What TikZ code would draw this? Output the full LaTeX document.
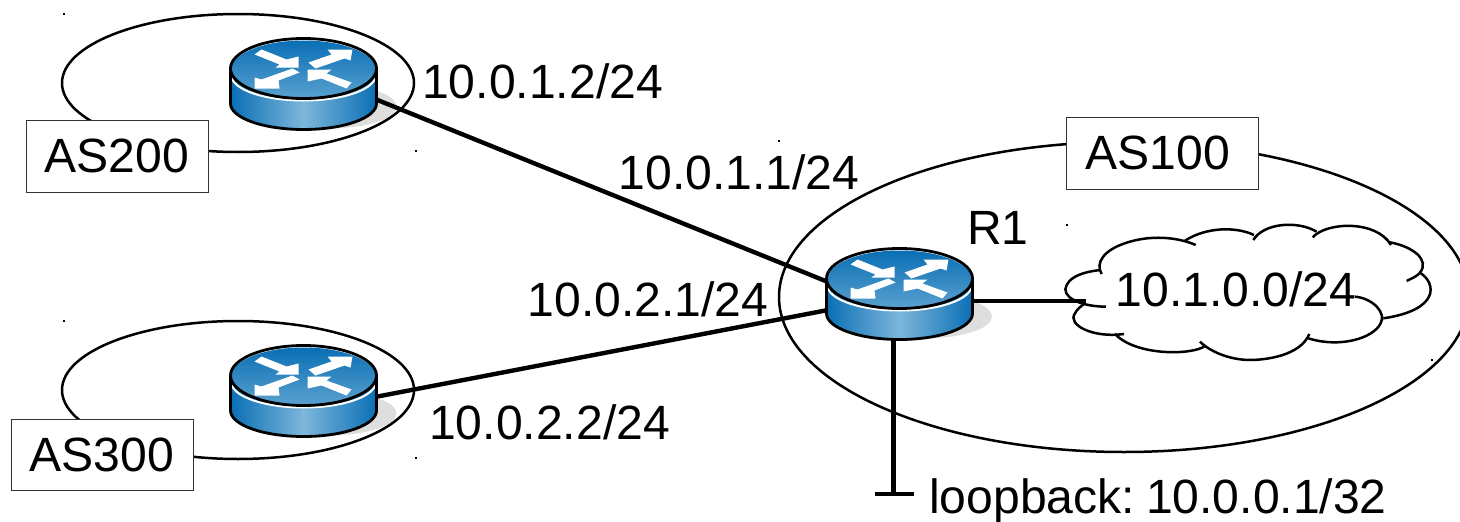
\documentclass[tikz,border=0pt]{standalone}
\usepackage{fontspec}
\usetikzlibrary{shapes.geometric}
\setmainfont{Liberation Sans}
\definecolor{rblue}{HTML}{0A6FB5}
\definecolor{rmid}{HTML}{7DB6DA}
\definecolor{rtopb}{HTML}{5DA2D0}
\definecolor{rshadow}{HTML}{DEDEDE}
\tikzset{
  lbl/.style={inner sep=0pt,anchor=base west,font=\fontsize{48.1}{50}\selectfont},
  asbox/.style={draw=black!80,line width=1pt,fill=white,inner sep=0pt,font=\fontsize{48.1}{50}\selectfont},
  asring/.style={draw=black,line width=2.5pt},
  link/.style={draw=black,line width=4.4pt},
  cloudline/.style={draw=black,line width=2.5pt},
  speck/.style={fill=black},
  routershadow/.pic={\fill[rshadow] (25,38) ellipse [x radius=68,y radius=22];},
  routerpic/.pic={
    \shade[left color=rblue,right color=rblue,middle color=rmid]
      (-73,0) -- (-73,35) .. controls (-73,49.4) and (-40.3,61) .. (0,61)
      .. controls (40.3,61) and (73,49.4) .. (73,35) -- (73,0) -- cycle;
    \shade[top color=rblue,bottom color=rtopb] (0,2) ellipse [x radius=73,y radius=30];
    \draw[white,line width=2pt] (-72,7) .. controls (-72,20.8) and (-39.8,32) .. (0,32)
      .. controls (39.8,32) and (72,20.8) .. (72,7);
    \fill[white] (-49,-14) -- (-42,-19) -- (-17,-9) -- (-5,-12) -- (-5,-1) -- (-28,-1) -- (-24,-4) -- cycle;
    \fill[white] (5,-6) -- (28,-14) -- (24,-19) -- (49,-19) -- (47,-8) -- (41,-10) -- (12,0) -- cycle;
    \fill[white] (-49,20) -- (-49,9) -- (-42,11) -- (-11,0) -- (-4,4) -- (-25,12) -- (-24,20) -- cycle;
    \fill[white] (4,1) -- (28,1) -- (23,5) -- (48,14) -- (43,20) -- (18,10) -- (4,13) -- cycle;
    \draw[black,line width=2.8pt]
      (-73,0) -- (-73,35) .. controls (-73,49.4) and (-40.3,61) .. (0,61)
      .. controls (40.3,61) and (73,49.4) .. (73,35) -- (73,0);
    \draw[black,line width=2.8pt] (0,0) ellipse [x radius=73,y radius=30];
  }
}
\begin{document}
\begin{tikzpicture}[x=1pt,y=-1pt]
\useasboundingbox (0,0) rectangle (1460,522);
\clip (0,0) rectangle (1460,522);
% shadows
\pic at (303.5,68.5) {routershadow};
\pic at (303.5,375.5) {routershadow};
\pic at (899,278.5) {routershadow};
% specks
\foreach \p in {(63,13),(415,150),(778,140),(1066,224),(1431,359),(63,320),(415,457)}
  \fill[speck] \p rectangle ++(2,2);
% AS rings
\node[asring,ellipse,minimum width=352pt,minimum height=138pt,inner sep=0pt] (ring200) at (238,83) {};
\node[asring,ellipse,minimum width=352pt,minimum height=138pt,inner sep=0pt] (ring300) at (238,390) {};
\node[asring,ellipse,minimum width=690pt,minimum height=310pt,inner sep=0pt] (ring100) at (1124,297) {};
% link end points
\coordinate (r200e) at (375,99);
\coordinate (r300e) at (375,397);
\coordinate (r1w) at (828,282);
\coordinate (r1s) at (828,310);
\coordinate (r1e) at (971,301);
\coordinate (r1b) at (893.5,336);
\coordinate (cloudw) at (1086,301);
\coordinate (lbk) at (893.5,494);
\coordinate (lbka) at (875,494);
\coordinate (lbkb) at (914,494);
\draw[link] (r200e) -- (r1w);
\draw[link] (r300e) -- (r1s);
\draw[link] (r1e) -- (cloudw);
\draw[link] (r1b) -- (lbk);
\draw[link] (lbka) -- (lbkb);
% routers
\pic (r200) at (303.5,68.5) {routerpic};
\pic (r300) at (303.5,375.5) {routerpic};
\pic (r1) at (899.5,278.5) {routerpic};
% cloud
\begin{scope}[shift={(1050,210)},x=0.3333pt,y=-0.3333pt]
\draw[cloudline] (155,192) .. controls (135,160) and (160,120) .. (230,98) .. controls (300,75) and (380,80) .. (437,105);
\draw[cloudline] (405,92) .. controls (470,50) and (560,50) .. (612,75);
\draw[cloudline] (610,90) .. controls (640,40) and (740,30) .. (800,65);
\draw[cloudline] (788,82) .. controls (830,35) and (980,30) .. (1023,105);
\draw[cloudline] (1020,97) .. controls (1090,110) and (1140,150) .. (1110,188) .. controls (1100,200) and (1085,205) .. (1070,213);
\draw[cloudline] (1110,188) .. controls (1160,220) and (1170,300) .. (1000,325);
\draw[cloudline] (915,260) .. controls (970,265) and (1010,310) .. (992,340) .. controls (970,385) and (870,415) .. (775,385);
\draw[cloudline] (778,372) .. controls (750,440) and (640,450) .. (600,450) .. controls (540,450) and (480,425) .. (450,395);
\draw[cloudline] (465,408) .. controls (430,435) and (260,440) .. (195,372);
\draw[cloudline] (222,372) .. controls (130,385) and (50,345) .. (75,310) .. controls (80,300) and (90,290) .. (105,280);
\draw[cloudline] (168,290) .. controls (90,290) and (30,260) .. (50,225) .. controls (65,195) and (110,185) .. (150,180);
\end{scope}
% boxes
\node[asbox,minimum width=182pt,minimum height=72pt] (as200) at (117,156) {AS200};
\node[asbox,minimum width=182pt,minimum height=71pt] (as300) at (102,454.5) {AS300};
\node[asbox,minimum width=192pt,minimum height=72pt] (as100) at (1162,153) {AS100\rule{8pt}{0pt}};
% labels
\node[lbl] (a1) at (422,98.5) {10.0.1.2/24};
\node[lbl] (a2) at (618.5,189.5) {10.0.1.1/24};
\node[lbl] (a3) at (527.5,316.5) {10.0.2.1/24};
\node[lbl] (a4) at (429,439.5) {10.0.2.2/24};
\node[lbl] (r1name) at (967,244.5) {R1};
\node[lbl] (net) at (1115.5,306.5) {10.1.0.0/24};
\node[lbl] (loop) at (929,513) {loopback:\hspace{11pt}10.0.0.1/32};
\end{tikzpicture}
\end{document}
